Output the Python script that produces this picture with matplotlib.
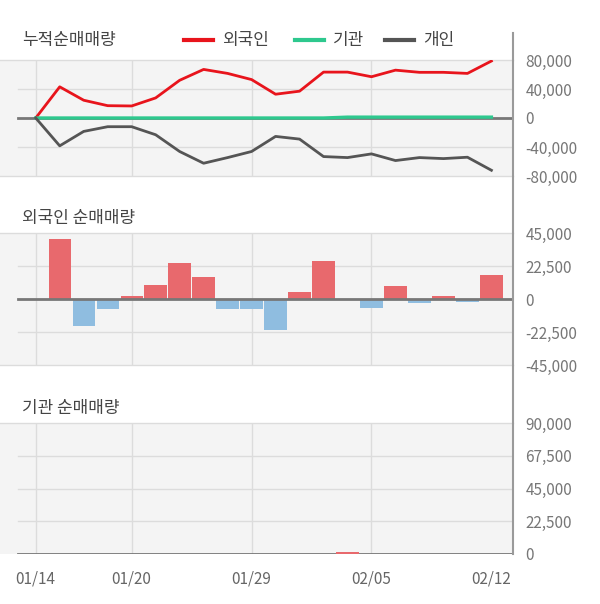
import matplotlib
matplotlib.use("Agg")
import matplotlib.pyplot as plt
from matplotlib.lines import Line2D
import numpy as np

plt.rcParams['font.family'] = ['Noto Sans CJK KR', 'DejaVu Sans']

# ---------------- data ----------------
dates = ['01/14', '01/15', '01/16', '01/17', '01/20', '01/21', '01/22', '01/23',
         '01/28', '01/29', '01/30', '01/31', '02/03', '02/04', '02/05', '02/06',
         '02/07', '02/10', '02/11', '02/12']
shown_dates = ['01/14', '01/20', '01/29', '02/05', '02/12']

foreign_cum = [0, 43000, 24500, 17000, 16600, 27700, 52000, 67000, 61500, 53000,
               32800, 37000, 63300, 63300, 56900, 66000, 63000, 63000, 61500, 78600]
inst_cum = [0, 0, 0, 0, 0, 0, 0, 0, 0, 0,
            0, 0, 0, 1200, 1200, 1200, 1200, 1200, 1200, 1200]
indiv_cum = [0, -38400, -18500, -12000, -12000, -23100, -46200, -62400, -54600, -46200,
             -25400, -29100, -53200, -54600, -49500, -58700, -54600, -56000, -54100, -72100]

foreign_daily = [0, 41100, -18200, -7000, 1800, 9800, 24300, 15200, -6600, -7000,
                 -20900, 4500, 26100, 0, -5900, 9100, -3000, 1800, -2200, 16600]
inst_daily = [0, 0, 0, 0, 0, 0, 0, 0, 0, 0,
              0, 0, 0, 1200, 0, 0, 0, 0, 0, 0]

top_ticks = [80000, 40000, 0, -40000, -80000]
top_labels = ['80,000', '40,000', '0', '-40,000', '-80,000']
mid_ticks = [45000, 22500, 0, -22500, -45000]
mid_labels = ['45,000', '22,500', '0', '-22,500', '-45,000']
bot_ticks = [90000, 67500, 45000, 22500, 0]
bot_labels = ['90,000', '67,500', '45,000', '22,500', '0']

legend_names = ['외국인', '기관', '개인']
titles = ['누적순매매량', '외국인 순매매량', '기관 순매매량']

# ---------------- styles ----------------
RED = '#e8141c'
GREEN = '#2ec88e'
DARK = '#555555'
BAR_RED = '#e8696d'
BAR_BLUE = '#8fbde0'
BG = '#f4f4f4'
GRID = '#dcdcdc'
ZERO = '#777777'
TICKC = '#777777'

W, H = 600, 604
fig = plt.figure(figsize=(W / 100, H / 100), dpi=100)

def px_axes(top, bottom):
    return fig.add_axes([0, 1 - bottom / H, 513 / W, (bottom - top) / H])

ax1 = px_axes(60, 176)
ax2 = px_axes(233, 365)
ax3 = px_axes(423, 554)

x = np.arange(len(dates))
xlim = (-1.49, 19.9)
grid_idx = [dates.index(d) for d in shown_dates]
inner_start = 18 / 513

def style(ax, ticks, labels, ylim, zero_y):
    ax.set_facecolor(BG)
    ax.set_xlim(*xlim)
    ax.set_ylim(*ylim)
    for s in ['left', 'right']:
        ax.spines[s].set_visible(False)
    for s in ['top', 'bottom']:
        ax.spines[s].set_color(GRID)
        ax.spines[s].set_linewidth(1.0)
    ax.yaxis.tick_right()
    ax.set_yticks(ticks)
    ax.set_yticklabels(labels)
    ax.tick_params(axis='y', length=0, pad=9, labelsize=11, labelcolor=TICKC)
    for lab in ax.get_yticklabels():
        lab.set_horizontalalignment('left')
    for t in ticks:
        if t != zero_y and t not in ylim:
            ax.axhline(t, xmin=inner_start, xmax=1, color=GRID, lw=1.0, zorder=0.5)
    for gi in grid_idx[:-1]:
        ax.axvline(gi, color=GRID, lw=1.0, zorder=0.5)
    ax.axhline(zero_y, xmin=inner_start, xmax=1, color=ZERO, lw=2.0, zorder=2.5)

style(ax1, top_ticks, top_labels, (-80000, 80000), 0)
style(ax2, mid_ticks, mid_labels, (-45000, 45000), 0)
style(ax3, bot_ticks, bot_labels, (0, 90000), 0)

ax1.set_xticks([])
ax2.set_xticks([])
ax3.set_xticks(grid_idx)
ax3.set_xticklabels(shown_dates)
ax3.tick_params(axis='x', length=0, pad=12, labelsize=11, labelcolor='#666666')
ax3.spines['bottom'].set_visible(False)

# top panel lines
ax1.plot(x, foreign_cum, color=RED, lw=2.0, zorder=3)
ax1.plot(x, inst_cum, color=GREEN, lw=2.4, zorder=3)
ax1.plot(x, indiv_cum, color=DARK, lw=2.0, zorder=3)

# middle panel bars
fd = np.array(foreign_daily)
ax2.bar(x, fd, width=0.93, color=np.where(fd >= 0, BAR_RED, BAR_BLUE), zorder=2)

# bottom panel bars
idl = np.array(inst_daily)
ax3.bar(x, idl, width=0.93, color=np.where(idl >= 0, BAR_RED, BAR_BLUE), zorder=3)

# right axis line spanning all panels
fig.add_artist(Line2D([513 / W, 513 / W], [1 - 33 / H, 1 - 554 / H],
                      color='#9a9a9a', lw=1.5, transform=fig.transFigure))

# titles
for t, yy in zip(titles, [40, 218, 408]):
    fig.text(22 / W, 1 - yy / H, t, fontsize=12.2, color='#444444', va='center', ha='left')

# legend
leg_colors = [RED, GREEN, DARK]
leg_x = [184, 295, 385]
for name, c, lx in zip(legend_names, leg_colors, leg_x):
    fig.add_artist(Line2D([lx / W, (lx + 29) / W], [1 - 40 / H, 1 - 40 / H],
                          color=c, lw=3, transform=fig.transFigure))
    fig.text((lx + 38) / W, 1 - 40 / H, name, fontsize=12.2, color='#444444',
             va='center', ha='left')

fig.savefig('out.png', dpi=100)
